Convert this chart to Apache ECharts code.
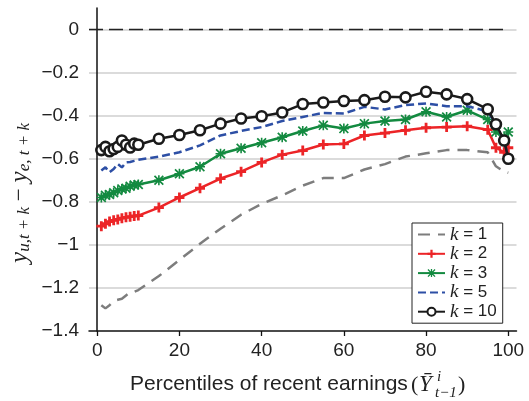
<!DOCTYPE html>
<html><head><meta charset="utf-8">
<script src="https://cdn.jsdelivr.net/npm/echarts@6/dist/echarts.min.js"></script>
<style>html,body{margin:0;padding:0;background:#fff}#c{width:529px;height:401px}</style>
</head><body><div id="c"></div>
<script>
const percentiles = [1,2,3,4,5,6,7,8,9,10,15,20,25,30,35,40,45,50,55,60,65,70,75,80,85,90,95,97,99,100];
const k1 = [-1.28,-1.295,-1.28,-1.26,-1.255,-1.25,-1.235,-1.22,-1.218,-1.21,-1.145,-1.07,-0.995,-0.925,-0.86,-0.81,-0.77,-0.725,-0.69,-0.69,-0.65,-0.625,-0.59,-0.575,-0.56,-0.56,-0.57,-0.635,-0.66,-0.665];
const k2 = [-0.913,-0.902,-0.892,-0.886,-0.882,-0.876,-0.872,-0.869,-0.866,-0.864,-0.827,-0.78,-0.737,-0.692,-0.66,-0.617,-0.581,-0.562,-0.534,-0.531,-0.492,-0.481,-0.468,-0.456,-0.453,-0.449,-0.465,-0.549,-0.57,-0.549];
const k3 = [-0.78,-0.77,-0.766,-0.758,-0.748,-0.74,-0.737,-0.728,-0.722,-0.72,-0.7,-0.67,-0.637,-0.577,-0.551,-0.526,-0.5,-0.471,-0.445,-0.46,-0.437,-0.425,-0.418,-0.382,-0.406,-0.375,-0.418,-0.476,-0.5,-0.476];
const k5 = [-0.655,-0.64,-0.663,-0.648,-0.624,-0.64,-0.617,-0.615,-0.61,-0.605,-0.59,-0.57,-0.538,-0.492,-0.471,-0.453,-0.425,-0.406,-0.387,-0.39,-0.359,-0.371,-0.351,-0.343,-0.356,-0.356,-0.38,-0.44,-0.52,-0.59];
const k10 = [-0.56,-0.545,-0.565,-0.555,-0.545,-0.515,-0.535,-0.548,-0.53,-0.535,-0.507,-0.49,-0.468,-0.437,-0.413,-0.403,-0.385,-0.346,-0.339,-0.332,-0.328,-0.312,-0.315,-0.289,-0.301,-0.323,-0.37,-0.44,-0.515,-0.60];
const seriesNames = ['k = 1','k = 2','k = 3','k = 5','k = 10'];
const xTickValues = [0,20,40,60,80,100];
const zeroLine = [[-2,0],[100,0]];

const pairs = ys => percentiles.map((x,i)=>[x, ys[i]]);
const plusPath = 'path://M3.6,0H6.4V3.6H10V6.4H6.4V10H3.6V6.4H0V3.6H3.6Z';
const starPath = 'path://M1.2,0L5,3.8L8.8,0L10,1.2L6.2,5L10,8.8L8.8,10L5,6.2L1.2,10L0,8.8L3.8,5L0,1.2Z M4.2,0H5.8V10H4.2Z M0,4.2H10V5.8H0Z';

const chart = echarts.init(document.getElementById('c'), null, {renderer:'canvas'});
const sansFont = 'Liberation Sans';
const serif = 'Liberation Serif';
const ink = '#222';
chart.setOption({
  animation:false,
  grid:{left:89, right:12.5, top:8, bottom:70},
  xAxis:{type:'value', min:-2, max:102,
    axisLine:{show:true, onZero:false, lineStyle:{color:'#111', width:1.5}},
    axisTick:{show:true, customValues:xTickValues, length:5, lineStyle:{color:'#111', width:1.3}},
    axisLabel:{customValues:xTickValues, fontSize:19, fontFamily:sansFont, color:ink, margin:10},
    splitLine:{show:false}},
  yAxis:{type:'value', min:-1.4, max:0.1, interval:0.2,
    axisLine:{show:true, lineStyle:{color:'#111', width:1.5}},
    axisTick:{show:false},
    axisLabel:{showMaxLabel:false, fontSize:19, fontFamily:sansFont, color:ink, margin:10,
      formatter:v=>{const r=Math.round(v*10)/10; return r===0?'0':String(r).replace('-','\u2212');}},
    splitLine:{show:true, showMaxLine:false, showMinLine:false, lineStyle:{color:'#cfcfcf', width:1.5}}},
  legend:{data:seriesNames.map((n,i)=>(i===0||i===3)?{name:n, itemStyle:{opacity:0}}:{name:n}),
    orient:'vertical', left:412, top:223, padding:[2,6,2,5],
    itemWidth:27, itemHeight:10, itemGap:0.3,
    borderColor:ink, borderWidth:1, backgroundColor:'#fff', borderRadius:0,
    textStyle:{fontSize:17, fontFamily:sansFont, color:ink, lineHeight:16,
      rich:{i:{fontStyle:'italic', fontFamily:serif, fontSize:19, lineHeight:16, color:ink}}},
    formatter:n=>n.replace('k','{i|k}')},
  graphic:[
    {type:'text', x:20, y:193, rotation:Math.PI/2, style:{
      text:'{m|y}{s|u,t + k}{o| \u2212 }{m|y}{s|e, t + k}', align:'center', verticalAlign:'middle',
      rich:{m:{fontFamily:serif, fontStyle:'italic', fontSize:25, lineHeight:26, fill:ink},
            s:{fontFamily:serif, fontStyle:'italic', fontSize:17, lineHeight:15, verticalAlign:'bottom', fill:ink},
            o:{fontFamily:serif, fontSize:23, lineHeight:26, fill:ink}}}},
    {type:'text', x:130, y:384, style:{text:'Percentiles of recent earnings', fontFamily:sansFont, fontSize:21, fill:ink, align:'left', verticalAlign:'middle'}},
    {type:'text', x:411, y:385, style:{text:'(', fontFamily:serif, fontSize:22, fill:ink, align:'left', verticalAlign:'middle'}},
    {type:'text', x:419, y:385, style:{text:'\u0232', fontFamily:serif, fontStyle:'italic', fontSize:23, fill:ink, align:'left', verticalAlign:'middle'}},
    {type:'text', x:437, y:377, style:{text:'i', fontFamily:serif, fontStyle:'italic', fontSize:15, fill:ink, align:'left', verticalAlign:'middle'}},
    {type:'text', x:435, y:393, style:{text:'t\u22121', fontFamily:serif, fontStyle:'italic', fontSize:15, fill:ink, align:'left', verticalAlign:'middle'}},
    {type:'text', x:458, y:385, style:{text:')', fontFamily:serif, fontSize:22, fill:ink, align:'left', verticalAlign:'middle'}}
  ],
  series:[
    {name:'zero', type:'line', data:zeroLine, symbol:'none', silent:true,
      lineStyle:{color:ink, width:1.5, type:[14,6]}, z:1},
    {name:seriesNames[0], type:'line', data:pairs(k1), symbol:'none', color:'#7d7d7d',
      lineStyle:{color:'#7d7d7d', width:2.5, type:[12,8]}, z:2},
    {name:seriesNames[1], type:'line', data:pairs(k2), symbol:plusPath, symbolSize:10, showAllSymbol:true, color:'#ec2427',
      lineStyle:{color:'#ec2427', width:2.5}, itemStyle:{color:'#ec2427'}, z:3},
    {name:seriesNames[2], type:'line', data:pairs(k3), symbol:starPath, symbolSize:10, showAllSymbol:true, color:'#138a40',
      lineStyle:{color:'#138a40', width:2.5}, itemStyle:{color:'#138a40'}, z:4},
    {name:seriesNames[3], type:'line', data:pairs(k5), symbol:'none', color:'#2d4fa5',
      lineStyle:{color:'#2d4fa5', width:2.5, type:[8,4]}, z:5},
    {name:seriesNames[4], type:'line', data:pairs(k10), symbol:'circle', symbolSize:10, showAllSymbol:true, color:'#1a1a1a',
      lineStyle:{color:'#1a1a1a', width:2.5}, itemStyle:{color:'#fff', borderColor:'#1a1a1a', borderWidth:2.6}, z:6}
  ]
});
</script></body></html>
